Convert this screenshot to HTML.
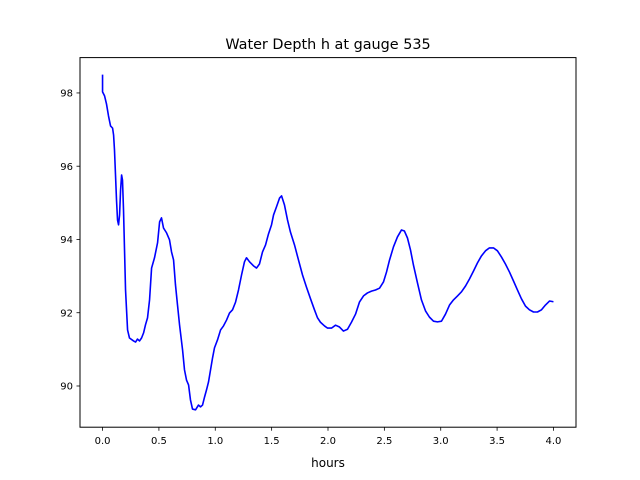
<!DOCTYPE html>
<html><head><meta charset="utf-8"><style>
body{margin:0;background:#fff;}
svg{display:block;font-family:"DejaVu Sans","Liberation Sans",sans-serif;}
</style></head><body>
<svg id="chart" width="640" height="480" viewBox="0 0 640 480" xmlns="http://www.w3.org/2000/svg">
<rect width="640" height="480" fill="#fff"/>
<text x="328" y="49" text-anchor="middle" font-size="14.4">Water Depth h at gauge 535</text>
<g id="plot"></g>
<rect x="80" y="57.6" width="496" height="369.6" fill="none" stroke="#000" stroke-width="1"/>
<g id="xticks"></g>
<g id="yticks"></g>
<text x="328" y="467" text-anchor="middle" font-size="12">hours</text>
</svg>
<script>
const hours=[0,0,.018,.035,.053,.071,.089,.098,.106,.115,.124,.133,.142,.151,.160,.169,.177,.186,.195,.204,.222,.239,.275,.293,.310,.328,.346,.364,.381,.399,.417,.435,.461,.488,.506,.523,.541,.568,.594,.612,.630,.647,.665,.683,.710,.727,.745,.763,.780,.798,.825,.851,.869,.887,.905,.922,.940,.958,.976,.993,1.020,1.047,1.073,1.100,1.126,1.153,1.180,1.206,1.233,1.259,1.277,1.304,1.339,1.366,1.392,1.419,1.446,1.472,1.499,1.517,1.543,1.570,1.588,1.614,1.641,1.667,1.703,1.738,1.774,1.809,1.845,1.880,1.907,1.933,1.969,1.996,2.031,2.067,2.102,2.137,2.173,2.208,2.244,2.279,2.315,2.350,2.386,2.421,2.457,2.492,2.519,2.546,2.581,2.616,2.652,2.678,2.705,2.732,2.758,2.794,2.829,2.865,2.900,2.936,2.971,3.007,3.042,3.078,3.113,3.149,3.184,3.220,3.255,3.291,3.326,3.361,3.397,3.432,3.468,3.503,3.539,3.574,3.610,3.645,3.681,3.716,3.752,3.787,3.823,3.858,3.894,3.929,3.965,4.0];
const depth=[98.5,98.03,97.92,97.70,97.37,97.10,97.04,96.85,96.44,95.76,95.07,94.53,94.40,94.67,95.35,95.76,95.62,94.81,93.71,92.62,91.53,91.31,91.23,91.20,91.28,91.23,91.31,91.45,91.67,91.86,92.35,93.22,93.50,93.91,94.48,94.59,94.31,94.18,93.99,93.66,93.44,92.76,92.21,91.67,90.98,90.44,90.16,90.03,89.62,89.37,89.35,89.48,89.43,89.48,89.70,89.89,90.11,90.44,90.77,91.04,91.26,91.53,91.64,91.80,91.99,92.08,92.29,92.62,93.03,93.39,93.50,93.39,93.28,93.22,93.33,93.66,93.85,94.15,94.40,94.67,94.89,95.13,95.19,94.94,94.53,94.20,93.85,93.44,93.03,92.70,92.38,92.08,91.86,91.74,91.64,91.58,91.58,91.66,91.61,91.50,91.55,91.74,91.96,92.29,92.46,92.54,92.59,92.62,92.67,92.84,93.11,93.44,93.80,94.07,94.26,94.23,94.04,93.71,93.30,92.81,92.35,92.05,91.88,91.77,91.75,91.77,91.96,92.21,92.35,92.46,92.57,92.73,92.92,93.14,93.36,93.55,93.69,93.77,93.77,93.69,93.52,93.33,93.11,92.87,92.62,92.38,92.18,92.08,92.02,92.02,92.08,92.21,92.32,92.3];
const xTicks=[0,0.5,1,1.5,2,2.5,3,3.5,4];
const xTickLabels=["0.0","0.5","1.0","1.5","2.0","2.5","3.0","3.5","4.0"];
const yTicks=[90,92,94,96,98];
const yTickLabels=["90","92","94","96","98"];
const X0=80,X1=576,Y0=57.6,Y1=427.2,xmin=-0.2,xmax=4.2,ymin=88.875,ymax=98.965;
const sx=v=>X0+(v-xmin)/(xmax-xmin)*(X1-X0);
const sy=v=>Y1-(v-ymin)/(ymax-ymin)*(Y1-Y0);
const NS="http://www.w3.org/2000/svg";
function mk(t,a){const e=document.createElementNS(NS,t);for(const k in a)e.setAttribute(k,a[k]);return e;}
const plot=document.getElementById('plot');
const line=mk('path',{d:hours.map((h,i)=>(i?'L':'M')+sx(h).toFixed(2)+' '+sy(depth[i]).toFixed(2)).join(' '),fill:'none',stroke:'#0000ff','stroke-width':1.6,'stroke-linejoin':'round'});


plot.appendChild(line);
const xg=document.getElementById('xticks');
xTicks.forEach((v,i)=>{
 const t=mk('line',{x1:sx(v),x2:sx(v),y1:Y1,y2:Y1+3.5,stroke:'#000','stroke-width':0.8});
 
 
 xg.appendChild(t);
 const l=mk('text',{x:sx(v),y:Y1+17,'text-anchor':'middle','font-size':10});
 
 
 l.textContent=xTickLabels[i];xg.appendChild(l);
});
const yg=document.getElementById('yticks');
yTicks.forEach((v,i)=>{
 const t=mk('line',{x1:X0-3.5,x2:X0,y1:sy(v),y2:sy(v),stroke:'#000','stroke-width':0.8});
 
 
 yg.appendChild(t);
 const l=mk('text',{x:X0-7,y:sy(v)+3.6,'text-anchor':'end','font-size':10});
 
 
 l.textContent=yTickLabels[i];yg.appendChild(l);
});
</script>
</body></html>
